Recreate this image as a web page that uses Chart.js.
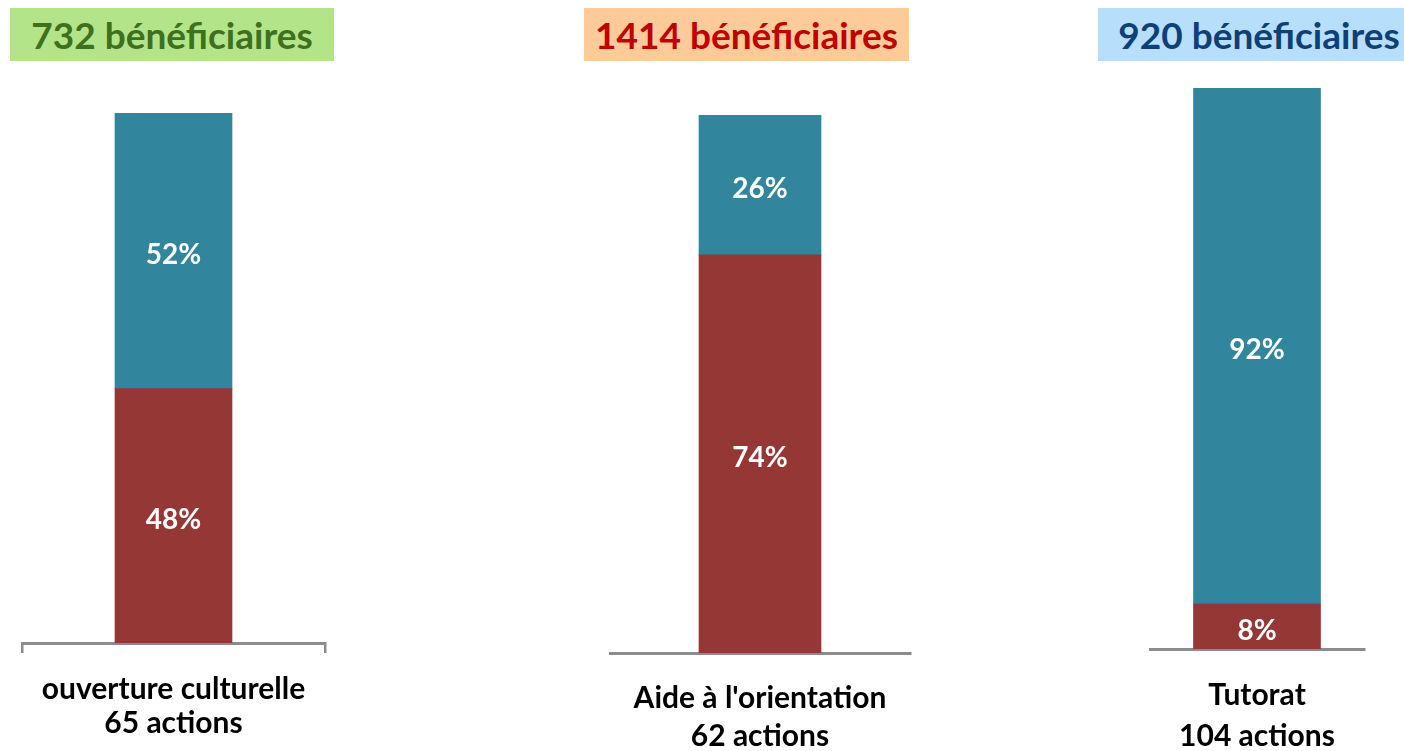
<!DOCTYPE html>
<html>
<head>
<meta charset="utf-8">
<script src="https://cdn.jsdelivr.net/npm/chart.js@4"></script>
<style>
  html, body { margin: 0; padding: 0; background: #fff; width: 1404px; height: 751px; overflow: hidden; position: relative; }
  .title { position: absolute; top: 8px; height: 53px; line-height: 53px; text-align: center;
           font-family: Lato, "Open Sans", sans-serif; font-weight: 700; font-size: 37px; white-space: nowrap; }
  .box { position: absolute; }
</style>
</head>
<body>
<div class="title" id="t0" style="left:10px;width:324px;background:#b3e48a;color:#3e701e"></div>
<div class="title" id="t1" style="left:584px;width:325px;background:#fdcb9a;color:#c00000"></div>
<div class="title" id="t2" style="left:1098px;width:322px;background:#b7defa;color:#0e3f77"></div>

<div class="box" style="left:0px;top:100px;width:345px;height:659px"><canvas id="c0"></canvas></div>
<div class="box" style="left:580px;top:100px;width:350px;height:681px"><canvas id="c1"></canvas></div>
<div class="box" style="left:1130px;top:70px;width:274px;height:713px"><canvas id="c2"></canvas></div>

<script>
// Data
const categories = [
    ['ouverture culturelle', '65 actions'],
    ["Aide à l'orientation", '62 actions'],
    ['Tutorat', '104 actions']
];
const beneficiaires = [732, 1414, 920];
const partRouge = [48, 74, 8];
const partBleu = [52, 26, 92];

const TEAL = '#31859c';
const RED = '#953735';
const AXIS = '#8c8c8c';
const FONT = 'Lato, "Open Sans", sans-serif';

// Percent labels in the middle of each segment
const segmentLabels = {
    id: 'segmentLabels',
    afterDatasetsDraw(chart) {
        const ctx = chart.ctx;
        ctx.save();
        ctx.fillStyle = '#fff';
        ctx.font = 'bold 28px ' + FONT;
        ctx.textAlign = 'center';
        ctx.textBaseline = 'middle';
        chart.data.datasets.forEach((ds, i) => {
            chart.getDatasetMeta(i).data.forEach((bar, j) => {
                const p = bar.getCenterPoint();
                ctx.fillText(ds.data[j] + '%', p.x, p.y + 4);
            });
        });
        ctx.restore();
    }
};

// Per-chart layout
const layouts = [
    { pad: { left: 22, right: 20, top: 13, bottom: 0 }, bar: 117, lineHeight: 34, tickPad: 19, endTicks: true },
    { pad: { left: 30, right: 20, top: 15, bottom: 0 }, bar: 122, lineHeight: 38, tickPad: 26, endTicks: false },
    { pad: { left: 20, right: 40, top: 18, bottom: 0 }, bar: 127, lineHeight: 41, tickPad: 26, endTicks: false }
];

categories.forEach(function(cat, i) {
    document.getElementById('t' + i).textContent = beneficiaires[i] + ' bénéficiaires';
    const lay = layouts[i];
    new Chart(document.getElementById('c' + i), {
        type: 'bar',
        data: {
            labels: [cat],
            datasets: [
                { data: [partRouge[i]], backgroundColor: RED, barThickness: lay.bar },
                { data: [partBleu[i]], backgroundColor: TEAL, barThickness: lay.bar }
            ]
        },
        options: {
            responsive: true,
            maintainAspectRatio: false,
            animation: false,
            layout: { padding: lay.pad },
            plugins: {
                legend: { display: false },
                tooltip: { enabled: false }
            },
            scales: {
                x: {
                    stacked: true,
                    grid: {
                        display: lay.endTicks,
                        drawOnChartArea: false,
                        drawTicks: lay.endTicks,
                        tickLength: 10,
                        color: AXIS,
                        lineWidth: 2.5
                    },
                    border: { display: true, color: AXIS, width: 3 },
                    ticks: {
                        color: '#000',
                        padding: lay.tickPad,
                        maxRotation: 0,
                        font: { family: FONT, size: 30, weight: 'bold', lineHeight: lay.lineHeight / 30 }
                    }
                },
                y: {
                    stacked: true,
                    display: false,
                    min: 0,
                    max: 100
                }
            }
        },
        plugins: [segmentLabels]
    });
});
</script>
</body>
</html>
